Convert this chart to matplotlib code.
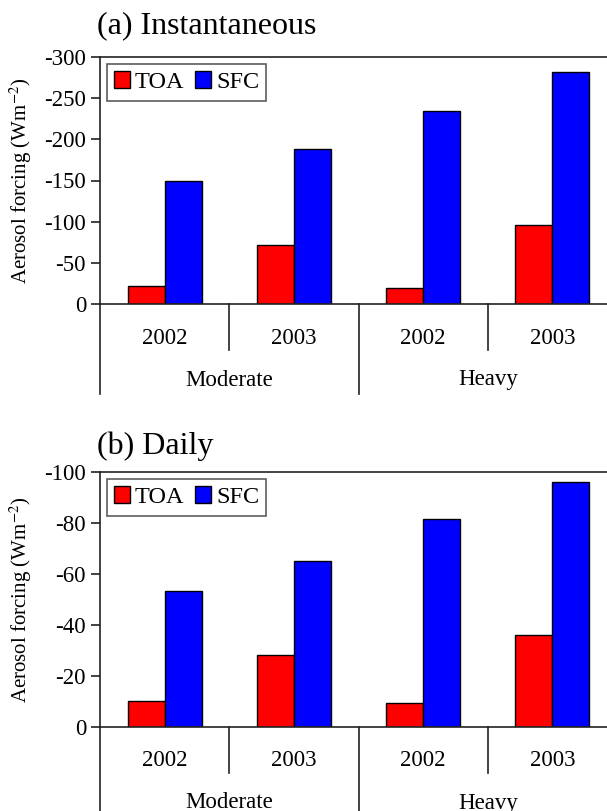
import matplotlib
matplotlib.use("Agg")
import matplotlib.pyplot as plt
import numpy as np

plt.rcParams['font.family'] = ['Liberation Serif', 'DejaVu Serif']
plt.rcParams['mathtext.fontset'] = 'stix'
plt.rcParams['axes.unicode_minus'] = False

# data
years = ["2002", "2003", "2002", "2003"]
groups = ["Moderate", "Heavy"]
inst_toa = [-22, -72, -19, -96]
inst_sfc = [-150, -188, -235, -282]
daily_toa = [-10.1, -28.1, -9.4, -36.2]
daily_sfc = [-53.3, -65.1, -81.4, -95.9]

W, H = 607, 811
fig = plt.figure(figsize=(W / 100, H / 100), dpi=100)

def px_axes(top, zero):
    return [100 / W, 1 - zero / H, 517 / W, (zero - top) / H]

def panel(rect, toa, sfc, ymin, step, title, title_y):
    ax = fig.add_axes(rect)
    ax_h = rect[3] * H
    x = np.arange(len(years))
    bw = 0.286
    ax.bar(x - bw / 2, toa, bw, color="#ff0000", edgecolor="black", linewidth=1.0, label="TOA")
    ax.bar(x + bw / 2, sfc, bw, color="#0000ff", edgecolor="black", linewidth=1.0, label="SFC")
    ax.set_xlim(-0.5, 3.5)
    ax.set_ylim(0, ymin)
    ticks = np.arange(0, ymin - 1, -step)
    ax.set_yticks(ticks)
    ax.set_yticklabels([str(int(v)) for v in ticks])
    ax.set_xticks([])
    ax.spines['right'].set_visible(False)
    for s in ax.spines.values():
        s.set_linewidth(1.2)
        s.set_color("#222222")
    ax.tick_params(axis='y', direction='out', length=6.5, width=1.2, labelsize=16.5, pad=3.5, color="#222222")

    tr = ax.get_xaxis_transform()
    # separators below axis
    for xs in [0.5, 2.5]:
        ax.plot([xs, xs], [0, -46 / ax_h], transform=tr, color="#222222", lw=1.2, clip_on=False)
    for xs in [-0.5, 1.5]:
        ax.plot([xs, xs], [0, -90 / ax_h], transform=tr, color="#222222", lw=1.2, clip_on=False)
    for xi, yr in zip(x, years):
        ax.text(xi, -34 / ax_h, yr, transform=tr, ha="center", va="center", fontsize=16.5)
    for gi, g in enumerate(groups):
        ax.text(0.5 + 2 * gi, -76 / ax_h, g, transform=tr, ha="center", va="center", fontsize=16.5)

    ax.set_ylabel("Aerosol forcing (Wm$^{-2}$)", fontsize=15)
    ax.yaxis.set_label_coords(-0.128, 0.5)

    leg = ax.legend(loc="upper left", bbox_to_anchor=(0.0135, 1 - 7 / ax_h), borderaxespad=0,
                    ncol=2, fontsize=17.5, handlelength=0.65, handleheight=0.7, handletextpad=0.2,
                    columnspacing=0.45, borderpad=0.3, fancybox=False, frameon=True)
    leg.get_frame().set_edgecolor("#333333")
    leg.get_frame().set_linewidth(1.2)

    fig.text(97 / W, 1 - title_y / H, title, ha="left", va="center", fontsize=23)
    return ax

panel(px_axes(57, 304), inst_toa, inst_sfc, -300, 50, "(a) Instantaneous", 26)
panel(px_axes(472, 727), daily_toa, daily_sfc, -100, 20, "(b) Daily", 446)

fig.savefig("out.png", dpi=100)
